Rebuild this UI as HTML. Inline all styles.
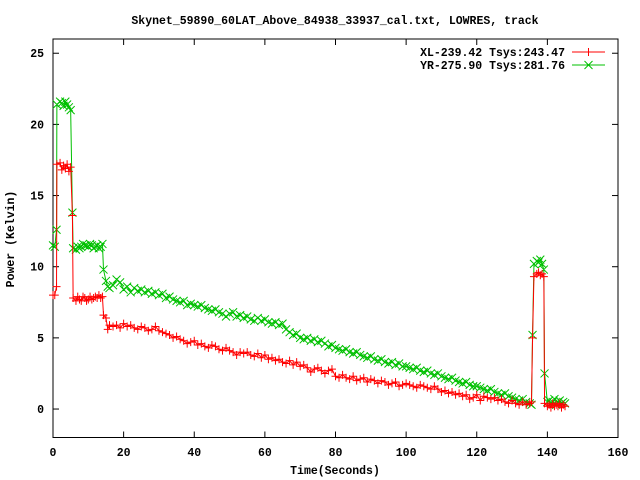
<!DOCTYPE html>
<html><head><meta charset="utf-8"><style>
body{margin:0;background:#fff}
svg{display:block}
text{font-family:"Liberation Mono",monospace;font-size:11.5px;font-weight:bold;fill:#000}
</style></head><body>
<svg id="c" width="640" height="480">
<text x="335" y="24" text-anchor="middle">Skynet_59890_60LAT_Above_84938_33937_cal.txt, LOWRES, track</text>
<text x="335" y="474" text-anchor="middle">Time(Seconds)</text>
<text transform="translate(14,239) rotate(-90)" text-anchor="middle">Power (Kelvin)</text>
<g id="axes"></g><g id="plot"></g><g id="legend"></g>
</svg>
<script>
const xTicks=[0,20,40,60,80,100,120,140,160];
const yTicks=[0,5,10,15,20,25];
const tA=[0,0.5,1,1.1,2,2.5,3,3.5,4,4.5,5,5.5,5.7,6.5,7,7.5,8,8.5,9,9.5,10,10.5,11,11.5,12,12.5,13,13.5,14,14.3,15,15.5,16];
const xlA=[8,8,8.6,17.2,17.3,16.8,17.1,16.9,17.2,16.7,17,13.6,7.8,7.6,7.9,7.7,7.6,7.9,7.8,7.6,7.7,7.9,7.7,7.8,7.9,7.8,8,7.8,7.9,6.6,6.4,5.6,5.9];
const yrA=[11.5,11.4,12.6,21.4,21.6,21.5,21.3,21.6,21.4,21.2,21,13.8,11.3,11.2,11.4,11.3,11.4,11.6,11.5,11.5,11.4,11.6,11.5,11.3,11.4,11.5,11.3,11.4,11.6,9.8,9.0,8.6,8.5];
const tB=[];for(let s=17;s<=135;s++)tB.push(s);
const xlB=[5.8,5.9,5.7,6.0,5.8,5.9,5.7,5.6,5.8,5.7,5.5,5.6,5.8,5.5,5.4,5.3,5.2,5.0,5.1,4.9,4.8,4.6,4.7,4.8,4.5,4.6,4.4,4.3,4.5,4.4,4.2,4.1,4.3,4.1,4.0,3.8,4.0,3.9,4.0,3.8,3.7,3.9,3.6,3.8,3.5,3.6,3.4,3.5,3.3,3.2,3.4,3.1,3.3,3.0,3.1,2.9,2.6,2.8,2.9,2.7,2.5,2.7,2.8,2.3,2.2,2.4,2.2,2.1,2.3,2.0,2.1,2.2,1.9,2.1,2.0,1.8,2.0,1.9,1.7,1.8,1.9,1.6,1.7,1.8,1.7,1.6,1.5,1.7,1.6,1.5,1.4,1.6,1.4,1.2,1.3,1.1,1.2,1.0,1.1,0.9,1.0,0.7,0.8,1.0,0.6,0.9,0.8,0.7,0.8,0.6,0.7,0.5,0.4,0.6,0.4,0.3,0.5,0.3,0.4];
const yrB=[8.7,9.1,8.9,8.4,8.6,8.2,8.5,8.3,8.4,8.2,8.3,8.1,8.2,8.0,8.1,7.8,7.9,7.7,7.6,7.5,7.6,7.3,7.4,7.3,7.2,7.3,7.1,7.0,6.9,7.0,6.8,6.7,6.5,6.7,6.8,6.5,6.6,6.4,6.5,6.3,6.2,6.4,6.2,6.3,6.1,6.0,6.1,5.9,6.0,5.6,5.4,5.2,5.3,5.0,4.9,5.0,4.8,4.9,4.7,4.8,4.6,4.4,4.5,4.3,4.2,4.1,4.2,4.0,3.9,4.0,3.8,3.7,3.6,3.7,3.5,3.4,3.5,3.3,3.2,3.3,3.1,3.2,3.0,3.0,2.9,2.8,2.9,2.7,2.6,2.7,2.5,2.4,2.5,2.3,2.2,2.1,2.2,2.0,1.9,1.8,1.9,1.7,1.6,1.6,1.5,1.4,1.3,1.4,1.2,1.1,1.0,1.1,0.9,0.8,0.7,0.6,0.7,0.5,0.4];
const tC=[135.5,135.8,136.2,137,137.5,138,138.5,139,139.2,140,140.5,141,141.5,142,142.5,143,143.5,144,144.5,145];
const xlC=[0.5,5.0,9.3,9.5,9.6,9.4,9.5,9.3,0.4,0.2,0.3,0.1,0.4,0.2,0.3,0.2,0.4,0.1,0.3,0.2];
const yrC=[0.3,5.2,10.2,10.4,10.3,10.5,10.2,9.8,2.5,0.5,0.6,0.4,0.5,0.7,0.3,0.5,0.6,0.4,0.5,0.4];
const times=tA.concat(tB,tC), xl=xlA.concat(xlB,xlC), yr=yrA.concat(yrB,yrC);
const L=53,R=618,T=39,B=437.5,xMin=0,xMax=160,yMin=-2,yMax=26;
const sx=v=>L+(v-xMin)/(xMax-xMin)*(R-L);
const sy=v=>B-(v-yMin)/(yMax-yMin)*(B-T);
const NS="http://www.w3.org/2000/svg";
function mk(tag,attrs,parent){const e=document.createElementNS(NS,tag);for(const k in attrs)e.setAttribute(k,attrs[k]);parent.appendChild(e);return e;}
const axes=document.getElementById('axes');
const frame=mk('rect',{x:L,y:T,width:R-L,height:B-T,fill:'none',stroke:'#000','stroke-width':1},axes);


xTicks.forEach(v=>{const x=sx(v);
 mk('line',{x1:x,y1:B,x2:x,y2:B-6,stroke:'#000'},axes);
 mk('line',{x1:x,y1:T,x2:x,y2:T+6,stroke:'#000'},axes);
 const t=mk('text',{x:x,y:456,'text-anchor':'middle'},axes);t.textContent=v;
 
 });
yTicks.forEach(v=>{const y=sy(v);
 mk('line',{x1:L,y1:y,x2:L+6,y2:y,stroke:'#000'},axes);
 mk('line',{x1:R,y1:y,x2:R-6,y2:y,stroke:'#000'},axes);
 const t=mk('text',{x:44,y:y+4,'text-anchor':'end'},axes);t.textContent=v;
 
 });
const plot=document.getElementById('plot');
function series(vals,color,kind,name){
 const g=mk('g',{},plot);
 
 
 mk('polyline',{points:times.map((t,i)=>sx(t)+','+sy(vals[i])).join(' '),fill:'none',stroke:color,'stroke-width':1},g);
 let d='';times.forEach((t,i)=>{const x=sx(t),y=sy(vals[i]),s=4;
  d+=kind==='plus'?`M${x-s},${y}H${x+s}M${x},${y-s}V${y+s}`:`M${x-s},${y-s}L${x+s},${y+s}M${x-s},${y+s}L${x+s},${y-s}`;});
 mk('path',{d:d,stroke:color,'stroke-width':1,fill:'none'},g);
}
series(yr,'#00c000','cross','yr-series');
series(xl,'#ff0000','plus','xl-series');
const lg=document.getElementById('legend');
[["XL-239.42 Tsys:243.47",'#ff0000','plus',52],["YR-275.90 Tsys:281.76",'#00c000','cross',65]].forEach(([txt,c,k,y])=>{
 const g=mk('g',{},lg);
 
 
 const t=mk('text',{x:565,y:y+4,'text-anchor':'end'},g);t.textContent=txt;
 mk('line',{x1:572,y1:y,x2:605,y2:y,stroke:c},g);
 const x=588.5,s=4;
 mk('path',{d:k==='plus'?`M${x-s},${y}H${x+s}M${x},${y-s}V${y+s}`:`M${x-s},${y-s}L${x+s},${y+s}M${x-s},${y+s}L${x+s},${y-s}`,stroke:c,fill:'none'},g);
});
</script>
</body></html>
